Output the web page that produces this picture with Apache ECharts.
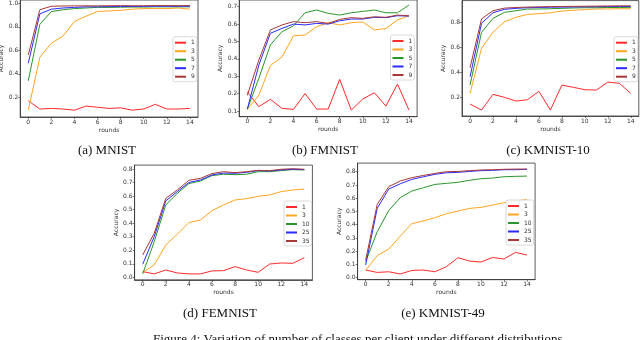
<!DOCTYPE html>
<html>
<head>
<meta charset="utf-8">
<script src="https://cdn.jsdelivr.net/npm/echarts@6/dist/echarts.min.js"></script>
<style>html,body{margin:0;padding:0;background:#fff;}#c{width:640px;height:340px;}</style>
</head>
<body>
<div id="c"></div>
<script>
// ---- data ----
const rounds = [0,1,2,3,4,5,6,7,8,9,10,11,12,13,14];
const xTicks = [0,2,4,6,8,10,12,14];

// (a) MNIST
const mnistNames = ['1','3','5','7','9'];
const mnist1 = [0.17,0.10,0.105,0.10,0.09,0.125,0.115,0.105,0.11,0.09,0.10,0.14,0.10,0.10,0.105];
const mnist3 = [0.09,0.54,0.66,0.72,0.845,0.89,0.93,0.935,0.94,0.95,0.955,0.955,0.955,0.96,0.95];
const mnist5 = [0.34,0.82,0.93,0.945,0.955,0.96,0.965,0.965,0.967,0.968,0.968,0.97,0.97,0.97,0.97];
const mnist7 = [0.49,0.91,0.95,0.96,0.965,0.97,0.97,0.972,0.972,0.973,0.974,0.975,0.975,0.975,0.975];
const mnist9 = [0.56,0.945,0.975,0.977,0.978,0.978,0.978,0.979,0.98,0.979,0.979,0.98,0.98,0.98,0.98];
const mnistTicks = [0.2,0.4,0.6,0.8,1.0];

// (b) FMNIST
const fmnistNames = ['1','3','5','7','9'];
const fmnist1 = [0.21,0.125,0.167,0.115,0.109,0.20,0.111,0.111,0.282,0.105,0.169,0.205,0.128,0.255,0.105];
const fmnist3 = [0.109,0.19,0.362,0.41,0.533,0.537,0.585,0.608,0.595,0.608,0.612,0.566,0.575,0.623,0.648];
const fmnist5 = [0.11,0.288,0.48,0.556,0.59,0.665,0.681,0.662,0.652,0.665,0.673,0.681,0.665,0.665,0.71];
const fmnist7 = [0.11,0.364,0.547,0.575,0.60,0.595,0.604,0.60,0.619,0.629,0.629,0.639,0.637,0.648,0.646];
const fmnist9 = [0.19,0.393,0.566,0.595,0.614,0.608,0.614,0.604,0.627,0.637,0.633,0.642,0.639,0.652,0.648];
const fmnistTicks = [0.1,0.2,0.3,0.4,0.5,0.6,0.7];

// (c) KMNIST-10
const kmnist10Names = ['1','3','5','7','9'];
const kmnist10_1 = [0.149,0.101,0.227,0.203,0.173,0.184,0.251,0.101,0.301,0.283,0.264,0.261,0.325,0.315,0.235];
const kmnist10_3 = [0.235,0.595,0.725,0.808,0.843,0.867,0.872,0.88,0.893,0.90,0.905,0.91,0.91,0.912,0.912];
const kmnist10_5 = [0.301,0.723,0.835,0.883,0.896,0.909,0.91,0.912,0.915,0.918,0.92,0.92,0.922,0.922,0.923];
const kmnist10_7 = [0.368,0.795,0.88,0.907,0.915,0.92,0.922,0.924,0.925,0.926,0.927,0.928,0.929,0.93,0.93];
const kmnist10_9 = [0.44,0.83,0.896,0.917,0.922,0.925,0.927,0.929,0.93,0.931,0.932,0.933,0.934,0.935,0.935];
const kmnist10Ticks = [0.2,0.4,0.6,0.8];

// (d) FEMNIST
const femnistNames = ['1','3','10','25','35'];
const femnist1 = [0.042,0.025,0.054,0.032,0.025,0.025,0.047,0.049,0.079,0.054,0.037,0.098,0.106,0.103,0.145];
const femnist3 = [0.037,0.091,0.239,0.318,0.404,0.423,0.492,0.534,0.571,0.581,0.598,0.608,0.633,0.645,0.652];
const femnist10 = [0.025,0.263,0.534,0.62,0.692,0.711,0.751,0.761,0.758,0.761,0.78,0.78,0.788,0.795,0.793];
const femnist25 = [0.096,0.30,0.564,0.633,0.70,0.719,0.756,0.77,0.768,0.775,0.788,0.785,0.793,0.798,0.795];
const femnist35 = [0.165,0.325,0.583,0.645,0.716,0.731,0.766,0.78,0.773,0.78,0.79,0.788,0.798,0.802,0.798];
const femnistTicks = [0.0,0.1,0.2,0.3,0.4,0.5,0.6,0.7,0.8];

// (e) KMNIST-49
const kmnist49Names = ['1','3','10','25','35'];
const kmnist49_1 = [0.058,0.04,0.045,0.028,0.055,0.058,0.045,0.083,0.151,0.126,0.118,0.153,0.141,0.191,0.171];
const kmnist49_3 = [0.055,0.166,0.216,0.314,0.408,0.428,0.453,0.483,0.503,0.523,0.531,0.548,0.566,0.579,0.591];
const kmnist49_10 = [0.121,0.347,0.506,0.604,0.654,0.679,0.704,0.712,0.72,0.735,0.747,0.752,0.762,0.765,0.767];
const kmnist49_25 = [0.096,0.523,0.669,0.709,0.742,0.762,0.78,0.792,0.795,0.802,0.808,0.81,0.815,0.815,0.818];
const kmnist49_35 = [0.133,0.553,0.687,0.73,0.755,0.772,0.787,0.80,0.802,0.808,0.813,0.815,0.818,0.82,0.82];
const kmnist49Ticks = [0.0,0.1,0.2,0.3,0.4,0.5,0.6,0.7,0.8];

const captions = ['(a) MNIST','(b) FMNIST','(c) KMNIST-10','(d) FEMNIST','(e) KMNIST-49'];
const figureCaption = 'Figure 4: Variation of number of classes per client under different distributions';

// ---- layout / style ----
const colors = ['#ff2a2a','#ffa520','#2a962a','#2a2aff','#a83838'];
const panels = [
  {names: mnistNames, series: [mnist1,mnist3,mnist5,mnist7,mnist9], ticks: mnistTicks,
   grid: {left:20.2, top:0, width:177.8, height:117}, ymin:0.032, ymax:1.028,
   legend:{left:173, top:36.7}, cap:{x:107, y:151}},
  {names: fmnistNames, series: [fmnist1,fmnist3,fmnist5,fmnist7,fmnist9], ticks: fmnistTicks,
   grid: {left:239.2, top:0, width:177.9, height:116.7}, ymin:0.067, ymax:0.7386,
   legend:{left:390.5, top:35}, cap:{x:325, y:151}},
  {names: kmnist10Names, series: [kmnist10_1,kmnist10_3,kmnist10_5,kmnist10_7,kmnist10_9], ticks: kmnist10Ticks,
   grid: {left:462, top:0.6, width:176.8, height:115.4}, ymin:0.0536, ymax:0.977,
   legend:{left:614, top:36.7}, cap:{x:548, y:151}},
  {names: femnistNames, series: [femnist1,femnist3,femnist10,femnist25,femnist35], ticks: femnistTicks,
   grid: {left:134.6, top:165.1, width:177.8, height:114.7}, ymin:-0.0185, ymax:0.8287,
   legend:{left:284, top:201}, cap:{x:220, y:314}},
  {names: kmnist49Names, series: [kmnist49_1,kmnist49_3,kmnist49_10,kmnist49_25,kmnist49_35], ticks: kmnist49Ticks,
   grid: {left:357.6, top:163.1, width:177.5, height:116.6}, ymin:-0.015, ymax:0.865,
   legend:{left:506, top:200}, cap:{x:443, y:314}}
];

const font = 'DejaVu Sans';
const axisColor = '#333';
const grids = [], xAxes = [], yAxes = [], series = [], legends = [], graphics = [];

panels.forEach((p, i) => {
  grids.push(Object.assign({show:true, borderColor:axisColor, borderWidth:0.8, backgroundColor:'#fff',
    containLabel:false, outerBoundsMode:'none'}, p.grid));
  xAxes.push({
    type:'value', gridIndex:i, min:-0.7, max:14.7,
    name:'rounds', nameLocation:'middle', nameGap:10,
    nameTextStyle:{fontFamily:font, fontSize:6, color:'#333'},
    axisLine:{show:true, onZero:false, lineStyle:{color:axisColor, width:0.8}},
    axisTick:{show:true, length:2, customValues:xTicks, lineStyle:{color:axisColor, width:0.6}},
    axisLabel:{customValues:xTicks, fontFamily:font, fontSize:6, color:'#333', margin:2,
      formatter:v => String(Math.round(v))},
    splitLine:{show:false}
  });
  yAxes.push({
    type:'value', gridIndex:i, min:p.ymin, max:p.ymax,
    name:'Accuracy', nameLocation:'middle', nameGap:14, nameRotate:90,
    nameTextStyle:{fontFamily:font, fontSize:6, color:'#333'},
    axisLine:{show:true, onZero:false, lineStyle:{color:axisColor, width:0.8}},
    axisTick:{show:true, length:2, customValues:p.ticks, lineStyle:{color:axisColor, width:0.6}},
    axisLabel:{customValues:p.ticks, fontFamily:font, fontSize:6, color:'#333', margin:2,
      formatter:v => Number(v).toFixed(1)},
    splitLine:{show:false}
  });
  p.series.forEach((vals, k) => {
    series.push({
      type:'line', name:p.names[k], xAxisIndex:i, yAxisIndex:i,
      data: rounds.map((r, j) => [r, vals[j]]),
      symbol:'none', showSymbol:false, smooth:false,
      lineStyle:{color:colors[k], width:1}, itemStyle:{color:colors[k]},
      z: 2 + k, silent:true
    });
  });
  legends.push({
    left:p.legend.left, top:p.legend.top, orient:'vertical',
    data:p.names.map((n, k) => ({name:n, icon:'rect', itemStyle:{color:colors[k]}})),
    itemWidth:11, itemHeight:2, itemGap:2.5,
    textStyle:{fontFamily:font, fontSize:6, color:'#333', lineHeight:6},
    backgroundColor:'rgba(255,255,255,0.9)', borderColor:'#d0d0d0', borderWidth:0.8, borderRadius:2,
    padding:[3,2,2,2], selectedMode:false
  });
  graphics.push({type:'text', x:p.cap.x, y:p.cap.y,
    style:{text:captions[i], align:'center', verticalAlign:'middle',
      font:'13px "Liberation Serif"', fill:'#111'}});
});

graphics.push({type:'text', x:153, y:333.5,
  style:{text:figureCaption, align:'left', verticalAlign:'top',
    font:'13px "Liberation Serif"', fill:'#111'}});

const chart = echarts.init(document.getElementById('c'), null, {renderer:'canvas'});
chart.setOption({
  animation:false,
  backgroundColor:'#fff',
  grid:grids, xAxis:xAxes, yAxis:yAxes, series:series, legend:legends,
  graphic:graphics
});
</script>
</body>
</html>
